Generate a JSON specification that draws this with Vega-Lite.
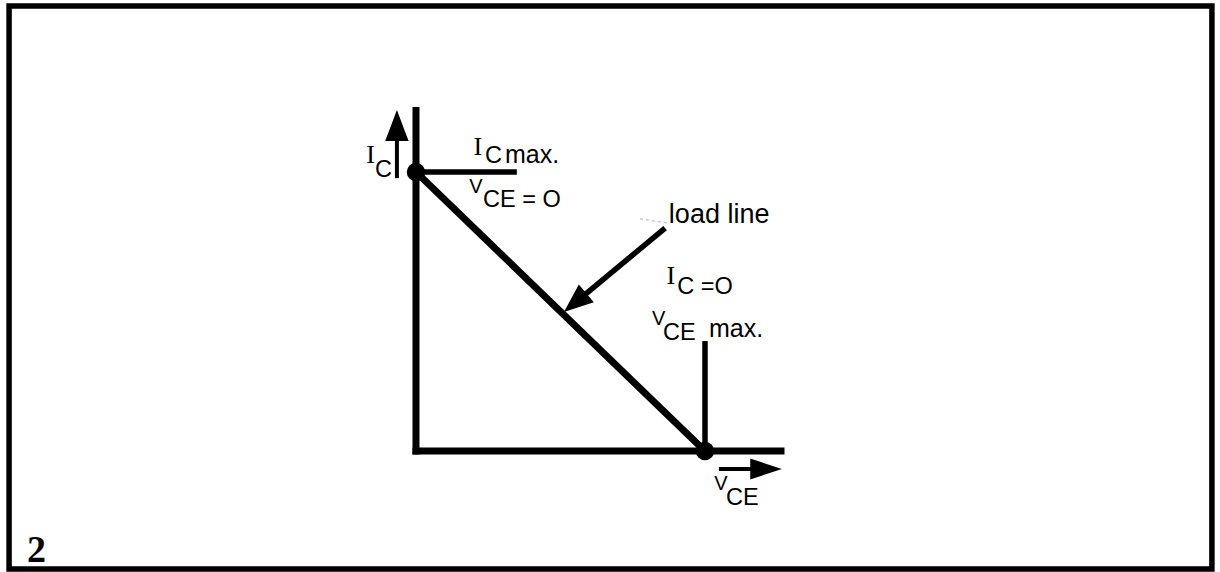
{
  "$schema": "https://vega.github.io/schema/vega-lite/v6.json",
  "width": 1220,
  "height": 572,
  "autosize": {"type": "fit", "contains": "padding"},
  "padding": 0,
  "background": "white",
  "config": {"view": {"stroke": null}},
  "encoding": {
    "x": {"field": "x", "type": "quantitative", "scale": {"domain": [-14.394, 27.82], "nice": false, "zero": false}, "axis": null},
    "y": {"field": "y", "type": "quantitative", "scale": {"domain": [-4.337, 16.165], "nice": false, "zero": false}, "axis": null}
  },
  "layer": [
    {
      "data": {"values": [{"part": "frame", "x": -14.08, "x2": 27.54, "y": 15.95, "y2": -4.23}]},
      "mark": {"type": "rect", "fill": "white", "fillOpacity": 0, "stroke": "black", "strokeWidth": 5.5},
      "encoding": {"x2": {"field": "x2"}, "y2": {"field": "y2"}}
    },
    {
      "data": {"values": [
        {"part": "faint", "x": 7.75, "y": 8.32, "x2": 8.72, "y2": 8.17}
      ]},
      "mark": {"type": "rule", "color": "#c8c8c8", "strokeWidth": 1.5, "strokeDash": [3, 3]},
      "encoding": {"x2": {"field": "x2"}, "y2": {"field": "y2"}}
    },
    {
      "data": {"values": [
        {"part": "I_C axis", "x": 0, "y": 0, "x2": 0, "y2": 12.2},
        {"part": "V_CE axis", "x": 0, "y": 0, "x2": 12.63, "y2": 0},
        {"part": "load line", "x": 0, "y": 10, "x2": 10, "y2": 0}
      ]},
      "mark": {"type": "rule", "color": "black", "strokeWidth": 7, "strokeCap": "square"},
      "encoding": {"x2": {"field": "x2"}, "y2": {"field": "y2"}}
    },
    {
      "data": {"values": [
        {"part": "I_C max", "x": 0, "y": 10, "x2": 3.49, "y2": 10},
        {"part": "V_CE max", "x": 10, "y": 0, "x2": 10, "y2": 3.94},
        {"part": "load line pointer", "x": 8.62, "y": 7.99, "x2": 5.71, "y2": 5.49}
      ]},
      "mark": {"type": "rule", "color": "black", "strokeWidth": 5.5},
      "encoding": {"x2": {"field": "x2"}, "y2": {"field": "y2"}}
    },
    {
      "data": {"values": [
        {"part": "I_C arrow", "x": -0.66, "y": 9.78, "x2": -0.66, "y2": 11.4},
        {"part": "V_CE arrow", "x": 10.48, "y": -0.645, "x2": 11.75, "y2": -0.645}
      ]},
      "mark": {"type": "rule", "color": "black", "strokeWidth": 4},
      "encoding": {"x2": {"field": "x2"}, "y2": {"field": "y2"}}
    },
    {
      "data": {"values": [{"part": "I_C arrow head", "x": -0.66, "y": 12.22}]},
      "mark": {"type": "point", "shape": "M0,0L0.38,1L-0.38,1Z", "size": 3800, "filled": true, "color": "black", "opacity": 1, "angle": 0}
    },
    {
      "data": {"values": [{"part": "V_CE arrow head", "x": 12.66, "y": -0.645}]},
      "mark": {"type": "point", "shape": "M0,0L0.33,1L-0.33,1Z", "size": 4000, "filled": true, "color": "black", "opacity": 1, "angle": 90}
    },
    {
      "data": {"values": [{"part": "load line pointer head", "x": 5.12, "y": 4.98}]},
      "mark": {"type": "point", "shape": "M0,0L0.4,1L-0.4,1Z", "size": 3400, "filled": true, "color": "black", "opacity": 1, "angle": 230}
    },
    {
      "data": {"values": [
        {"part": "I_C max point", "x": 0, "y": 10},
        {"part": "V_CE max point", "x": 10, "y": 0}
      ]},
      "mark": {"type": "point", "shape": "circle", "size": 340, "filled": true, "color": "black", "opacity": 1}
    },
    {
      "data": {"values": [
        {"label": "I", "x": -1.72, "y": 10.32},
        {"label": "I", "x": 1.99, "y": 10.61},
        {"label": "I", "x": 8.67, "y": 5.99}
      ]},
      "mark": {"type": "text", "font": "Liberation Serif", "fontSize": 26, "align": "left", "baseline": "alphabetic", "color": "black"},
      "encoding": {"text": {"field": "label"}}
    },
    {
      "data": {"values": [
        {"label": "C", "x": -1.42, "y": 9.82},
        {"label": "C", "x": 2.39, "y": 10.32},
        {"label": "CE = O", "x": 2.32, "y": 8.75},
        {"label": "C =O", "x": 9.04, "y": 5.63},
        {"label": "CE", "x": 8.55, "y": 3.98},
        {"label": "CE", "x": 10.73, "y": -1.94}
      ]},
      "mark": {"type": "text", "font": "Liberation Sans", "fontSize": 23.5, "align": "left", "baseline": "alphabetic", "color": "black"},
      "encoding": {"text": {"field": "label"}}
    },
    {
      "data": {"values": [
        {"label": "V", "x": 1.84, "y": 9.25},
        {"label": "V", "x": 8.17, "y": 4.52},
        {"label": "V", "x": 10.32, "y": -1.40}
      ]},
      "mark": {"type": "text", "font": "Liberation Sans", "fontSize": 20, "align": "left", "baseline": "alphabetic", "color": "black"},
      "encoding": {"text": {"field": "label"}}
    },
    {
      "data": {"values": [
        {"label": "max.", "x": 3.08, "y": 10.32},
        {"label": "max.", "x": 10.14, "y": 4.09}
      ]},
      "mark": {"type": "text", "font": "Liberation Sans", "fontSize": 25, "align": "left", "baseline": "alphabetic", "color": "black"},
      "encoding": {"text": {"field": "label"}}
    },
    {
      "data": {"values": [{"label": "load line", "x": 8.75, "y": 8.17}]},
      "mark": {"type": "text", "font": "Liberation Sans", "fontSize": 27, "align": "left", "baseline": "alphabetic", "color": "black"},
      "encoding": {"text": {"field": "label"}}
    },
    {
      "data": {"values": [{"label": "2", "x": -13.46, "y": -3.98}]},
      "mark": {"type": "text", "font": "Liberation Serif", "fontSize": 38, "fontWeight": "bold", "align": "left", "baseline": "alphabetic", "color": "black"},
      "encoding": {"text": {"field": "label"}}
    }
  ]
}
